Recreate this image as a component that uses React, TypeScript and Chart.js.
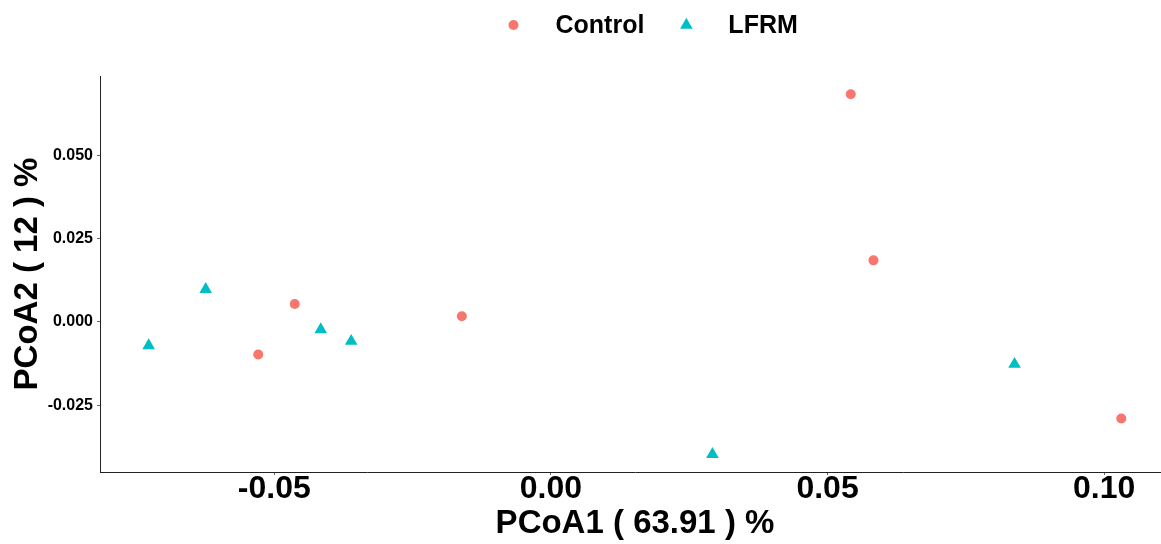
import React, { useEffect, useRef } from 'react';
import { Chart, registerables } from 'chart.js';

Chart.register(...registerables);

// ---- data ----
const SERIES_NAMES = ['Control', 'LFRM'];
const CONTROL_X = [0.0542, 0.0583, 0.1031, -0.0463, -0.0529, -0.0161];
const CONTROL_Y = [0.0684, 0.0185, -0.029, 0.0054, -0.0098, 0.0017];
const LFRM_X = [-0.0727, -0.0624, -0.0416, -0.0361, 0.0292, 0.0838];
const LFRM_Y = [-0.0071, 0.0098, -0.0023, -0.0058, -0.0398, -0.0127];
const X_TICKS = [-0.05, 0, 0.05, 0.1];
const X_TICK_LABELS = ['-0.05', '0.00', '0.05', '0.10'];
const Y_TICKS = [-0.025, 0, 0.025, 0.05];
const Y_TICK_LABELS = ['-0.025', '0.000', '0.025', '0.050'];
const X_LIMITS = [-0.0815, 0.1119];
const Y_LIMITS = [-0.0451, 0.0739];
const X_TITLE = 'PCoA1 ( 63.91 ) %';
const Y_TITLE = 'PCoA2 ( 12 ) %';

const COLORS = ['#F8766D', '#00BFC4'];
const FONT = '"Liberation Sans", Arial, Helvetica, sans-serif';

function drawTriangle(ctx: CanvasRenderingContext2D, x: number, y: number, r: number) {
  ctx.beginPath();
  let a = 0;
  ctx.moveTo(x + Math.sin(a) * r, y - Math.cos(a) * r);
  a += (2 * Math.PI) / 3;
  ctx.lineTo(x + Math.sin(a) * r, y - Math.cos(a) * r);
  a += (2 * Math.PI) / 3;
  ctx.lineTo(x + Math.sin(a) * r, y - Math.cos(a) * r);
  ctx.closePath();
  ctx.fill();
}

const legendPlugin = {
  id: 'topLegend',
  afterDraw(chart: any) {
    const ctx: CanvasRenderingContext2D = chart.ctx;
    ctx.save();
    ctx.font = `bold 25px ${FONT}`;
    ctx.textBaseline = 'middle';
    ctx.textAlign = 'left';
    const cy = 25;
    let x = 513.5;
    SERIES_NAMES.forEach((name, i) => {
      ctx.fillStyle = COLORS[i];
      if (i === 0) {
        ctx.beginPath();
        ctx.arc(x, cy, 5, 0, Math.PI * 2);
        ctx.fill();
      } else {
        drawTriangle(ctx, x, cy, 7.3);
      }
      const tx = x + 42;
      ctx.fillStyle = '#000';
      ctx.fillText(name, tx, cy + 1);
      x = tx + ctx.measureText(name).width + 42;
    });
    ctx.restore();
  },
};

export default function App() {
  const canvasRef = useRef<HTMLCanvasElement | null>(null);

  useEffect(() => {
    if (!canvasRef.current) return;
    const chart = new Chart(canvasRef.current, {
      type: 'scatter',
      data: {
        datasets: [
          {
            label: SERIES_NAMES[0],
            data: CONTROL_X.map((x, i) => ({ x, y: CONTROL_Y[i] })),
            pointStyle: 'circle',
            pointRadius: 5,
            backgroundColor: COLORS[0],
            borderWidth: 0,
          },
          {
            label: SERIES_NAMES[1],
            data: LFRM_X.map((x, i) => ({ x, y: LFRM_Y[i] })),
            pointStyle: 'triangle',
            pointRadius: 7.3,
            backgroundColor: COLORS[1],
            borderWidth: 0,
          },
        ],
      },
      options: {
        responsive: false,
        animation: false,
        devicePixelRatio: 1,
        layout: { autoPadding: false, padding: { top: 76, right: 1, left: 0, bottom: 0 } },
        plugins: { legend: { display: false }, tooltip: { enabled: false } },
        scales: {
          x: {
            type: 'linear',
            min: X_LIMITS[0],
            max: X_LIMITS[1],
            afterBuildTicks: (s: any) => {
              s.ticks = X_TICKS.map((v) => ({ value: v }));
            },
            afterFit: (s: any) => {
              s.height = 72;
              s.paddingLeft = 0;
              s.paddingRight = 0;
            },
            ticks: {
              callback: (_v: any, i: number) => X_TICK_LABELS[i],
              font: { family: FONT, size: 32, weight: 'bold', lineHeight: 1 },
              color: '#000',
              padding: -2,
              maxRotation: 0,
              autoSkip: false,
            },
            grid: { drawOnChartArea: false, drawTicks: true, tickLength: 3, color: '#666' },
            border: { display: true, color: '#222', width: 1 },
            title: {
              display: true,
              text: X_TITLE,
              color: '#000',
              font: { family: FONT, size: 33, weight: 'bold' },
              padding: { top: 0, bottom: 0 },
            },
          },
          y: {
            type: 'linear',
            min: Y_LIMITS[0],
            max: Y_LIMITS[1],
            afterBuildTicks: (s: any) => {
              s.ticks = Y_TICKS.map((v) => ({ value: v }));
            },
            afterFit: (s: any) => {
              s.width = 100;
              s.paddingTop = 0;
              s.paddingBottom = 0;
            },
            ticks: {
              callback: (_v: any, i: number) => Y_TICK_LABELS[i],
              font: { family: FONT, size: 16, weight: 'bold' },
              color: '#000',
              padding: 4,
              autoSkip: false,
            },
            grid: { drawOnChartArea: false, drawTicks: true, tickLength: 3, color: '#666' },
            border: { display: true, color: '#222', width: 1 },
            title: {
              display: true,
              text: Y_TITLE,
              color: '#000',
              font: { family: FONT, size: 33, weight: 'bold' },
              padding: { top: 8, bottom: 0 },
            },
          },
        },
      } as any,
      plugins: [legendPlugin],
    });
    return () => chart.destroy();
  }, []);

  return (
    <div
      style={{
        position: 'absolute',
        left: 0,
        top: 0,
        width: 1161,
        height: 544,
        overflow: 'hidden',
        background: '#fff',
      }}
    >
      <canvas ref={canvasRef} width={1171} height={544} style={{ display: 'block' }} />
    </div>
  );
}
